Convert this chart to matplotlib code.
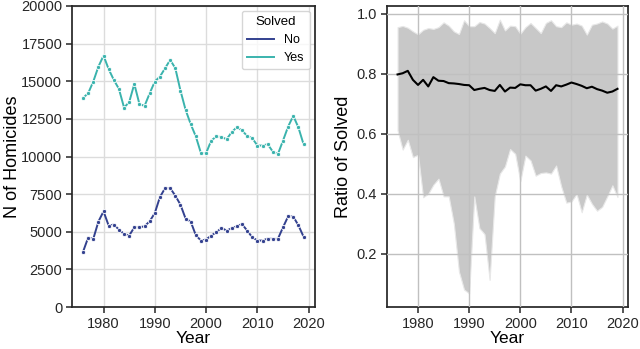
import matplotlib
matplotlib.use('Agg')
import matplotlib.pyplot as plt

# ---- data ----
years = list(range(1976, 2020))

solved_yes = [13890, 14200, 14980, 15970, 16700, 15800, 15090, 14490, 13250, 13610,
              14820, 13480, 13360, 14200, 14980, 15310, 15860, 16420, 15860, 14380,
              13100, 12150, 11330, 10220, 10220, 11060, 11330, 11290, 11150, 11620,
              11950, 11730, 11370, 11220, 10730, 10730, 10820, 10330, 10160, 11060,
              11990, 12700, 11930, 10820]

solved_no = [3670, 4620, 4530, 5680, 6360, 5410, 5480, 5150, 4860, 4750,
             5300, 5300, 5370, 5700, 6250, 7310, 7900, 7900, 7400, 6800,
             5880, 5680, 4770, 4420, 4490, 4750, 4970, 5260, 5080, 5240,
             5370, 5520, 5080, 4640, 4420, 4420, 4550, 4530, 4530, 5300,
             6030, 6010, 5430, 4680]

ratio_mean = [0.798, 0.802, 0.810, 0.780, 0.763, 0.780, 0.758, 0.789, 0.777, 0.776,
              0.769, 0.768, 0.766, 0.763, 0.762, 0.746, 0.750, 0.753, 0.746, 0.743,
              0.763, 0.741, 0.754, 0.753, 0.765, 0.762, 0.762, 0.744, 0.750, 0.758,
              0.743, 0.762, 0.758, 0.764, 0.771, 0.766, 0.760, 0.752, 0.757, 0.749,
              0.744, 0.737, 0.741, 0.750]

ratio_high = [0.956, 0.960, 0.954, 0.942, 0.932, 0.947, 0.953, 0.950, 0.956, 0.972,
              0.961, 0.942, 0.933, 0.979, 0.959, 0.959, 0.973, 0.968, 0.953, 0.936,
              0.981, 0.945, 0.961, 0.959, 0.934, 0.956, 0.970, 0.953, 0.936, 0.970,
              0.979, 0.959, 0.956, 0.972, 0.964, 0.968, 0.961, 0.931, 0.964, 0.968,
              0.975, 0.968, 0.951, 0.961]

ratio_low = [0.611, 0.547, 0.580, 0.522, 0.530, 0.388, 0.400, 0.430, 0.450, 0.391,
             0.391, 0.300, 0.140, 0.080, 0.067, 0.391, 0.285, 0.265, 0.112, 0.391,
             0.467, 0.491, 0.549, 0.533, 0.441, 0.527, 0.511, 0.460, 0.469, 0.471,
             0.467, 0.494, 0.424, 0.370, 0.374, 0.399, 0.338, 0.397, 0.366, 0.343,
             0.356, 0.391, 0.428, 0.389]

# ---- style (seaborn "ticks" + grid look) ----
plt.rcParams['font.family'] = ['Liberation Sans', 'DejaVu Sans']
plt.rcParams['axes.edgecolor'] = '.15'
plt.rcParams['axes.linewidth'] = 1.25
plt.rcParams['grid.color'] = '#dcdcdc'
plt.rcParams['xtick.color'] = '.15'
plt.rcParams['ytick.color'] = '.15'
plt.rcParams['xtick.major.size'] = 4.5
plt.rcParams['ytick.major.size'] = 4.5
plt.rcParams['xtick.major.width'] = 1.1
plt.rcParams['ytick.major.width'] = 1.1
plt.rcParams['xtick.major.pad'] = 2.5
plt.rcParams['ytick.major.pad'] = 2.5

fig = plt.figure(figsize=(6.4, 3.49), dpi=100)
ax1 = fig.add_axes([0.1125, 0.12, 0.379, 0.863])
ax2 = fig.add_axes([0.604, 0.12, 0.378, 0.863])

# ---- left: counts ----
c_no = '#33418f'
c_yes = '#3ab3ad'
ax1.plot(years, solved_no, color=c_no, lw=1.4, marker='o', ms=3,
         mec='white', mew=0.6, label='No')
ax1.plot(years, solved_yes, color=c_yes, lw=1.4, marker='o', ms=3,
         mec='white', mew=0.6, label='Yes')
ax1.set_ylim(0, 20000)
ax1.set_yticks(range(0, 20001, 2500))
ax1.set_xticks([1980, 1990, 2000, 2010, 2020])
ax1.set_xlabel('Year', fontsize=12.5, labelpad=0)
ax1.set_ylabel('N of Homicides', fontsize=13, labelpad=0)
ax1.grid(True, lw=1)
ax1.set_axisbelow(True)
ax1.tick_params(labelsize=10.5)
leg = ax1.legend(title='Solved', loc='upper right', fontsize=9,
                 title_fontsize=9.5, frameon=True, handlelength=2.2,
                 borderaxespad=0.4, fancybox=True)
for line in leg.get_lines():
    line.set_marker('')
    line.set_linewidth(1.4)
leg.get_frame().set_edgecolor('#cccccc')

# ---- right: ratio of solved ----
ax2.fill_between(years, ratio_low, ratio_high, color='#c8c8c8',
                 edgecolor='#e8e8e8', lw=0.8, zorder=2)
ax2.plot(years, ratio_mean, color='black', lw=1.5, zorder=3)
ax2.set_xticks([1980, 1990, 2000, 2010, 2020])
ax2.set_yticks([0.2, 0.4, 0.6, 0.8, 1.0])
ax2.set_xlabel('Year', fontsize=12.5, labelpad=0)
ax2.set_ylabel('Ratio of Solved', fontsize=13, labelpad=3)
ax2.grid(True, lw=1, color='#c0c0c0')
ax2.set_axisbelow(False)
ax2.tick_params(labelsize=10.5)

fig.savefig('out.png', dpi=100)
